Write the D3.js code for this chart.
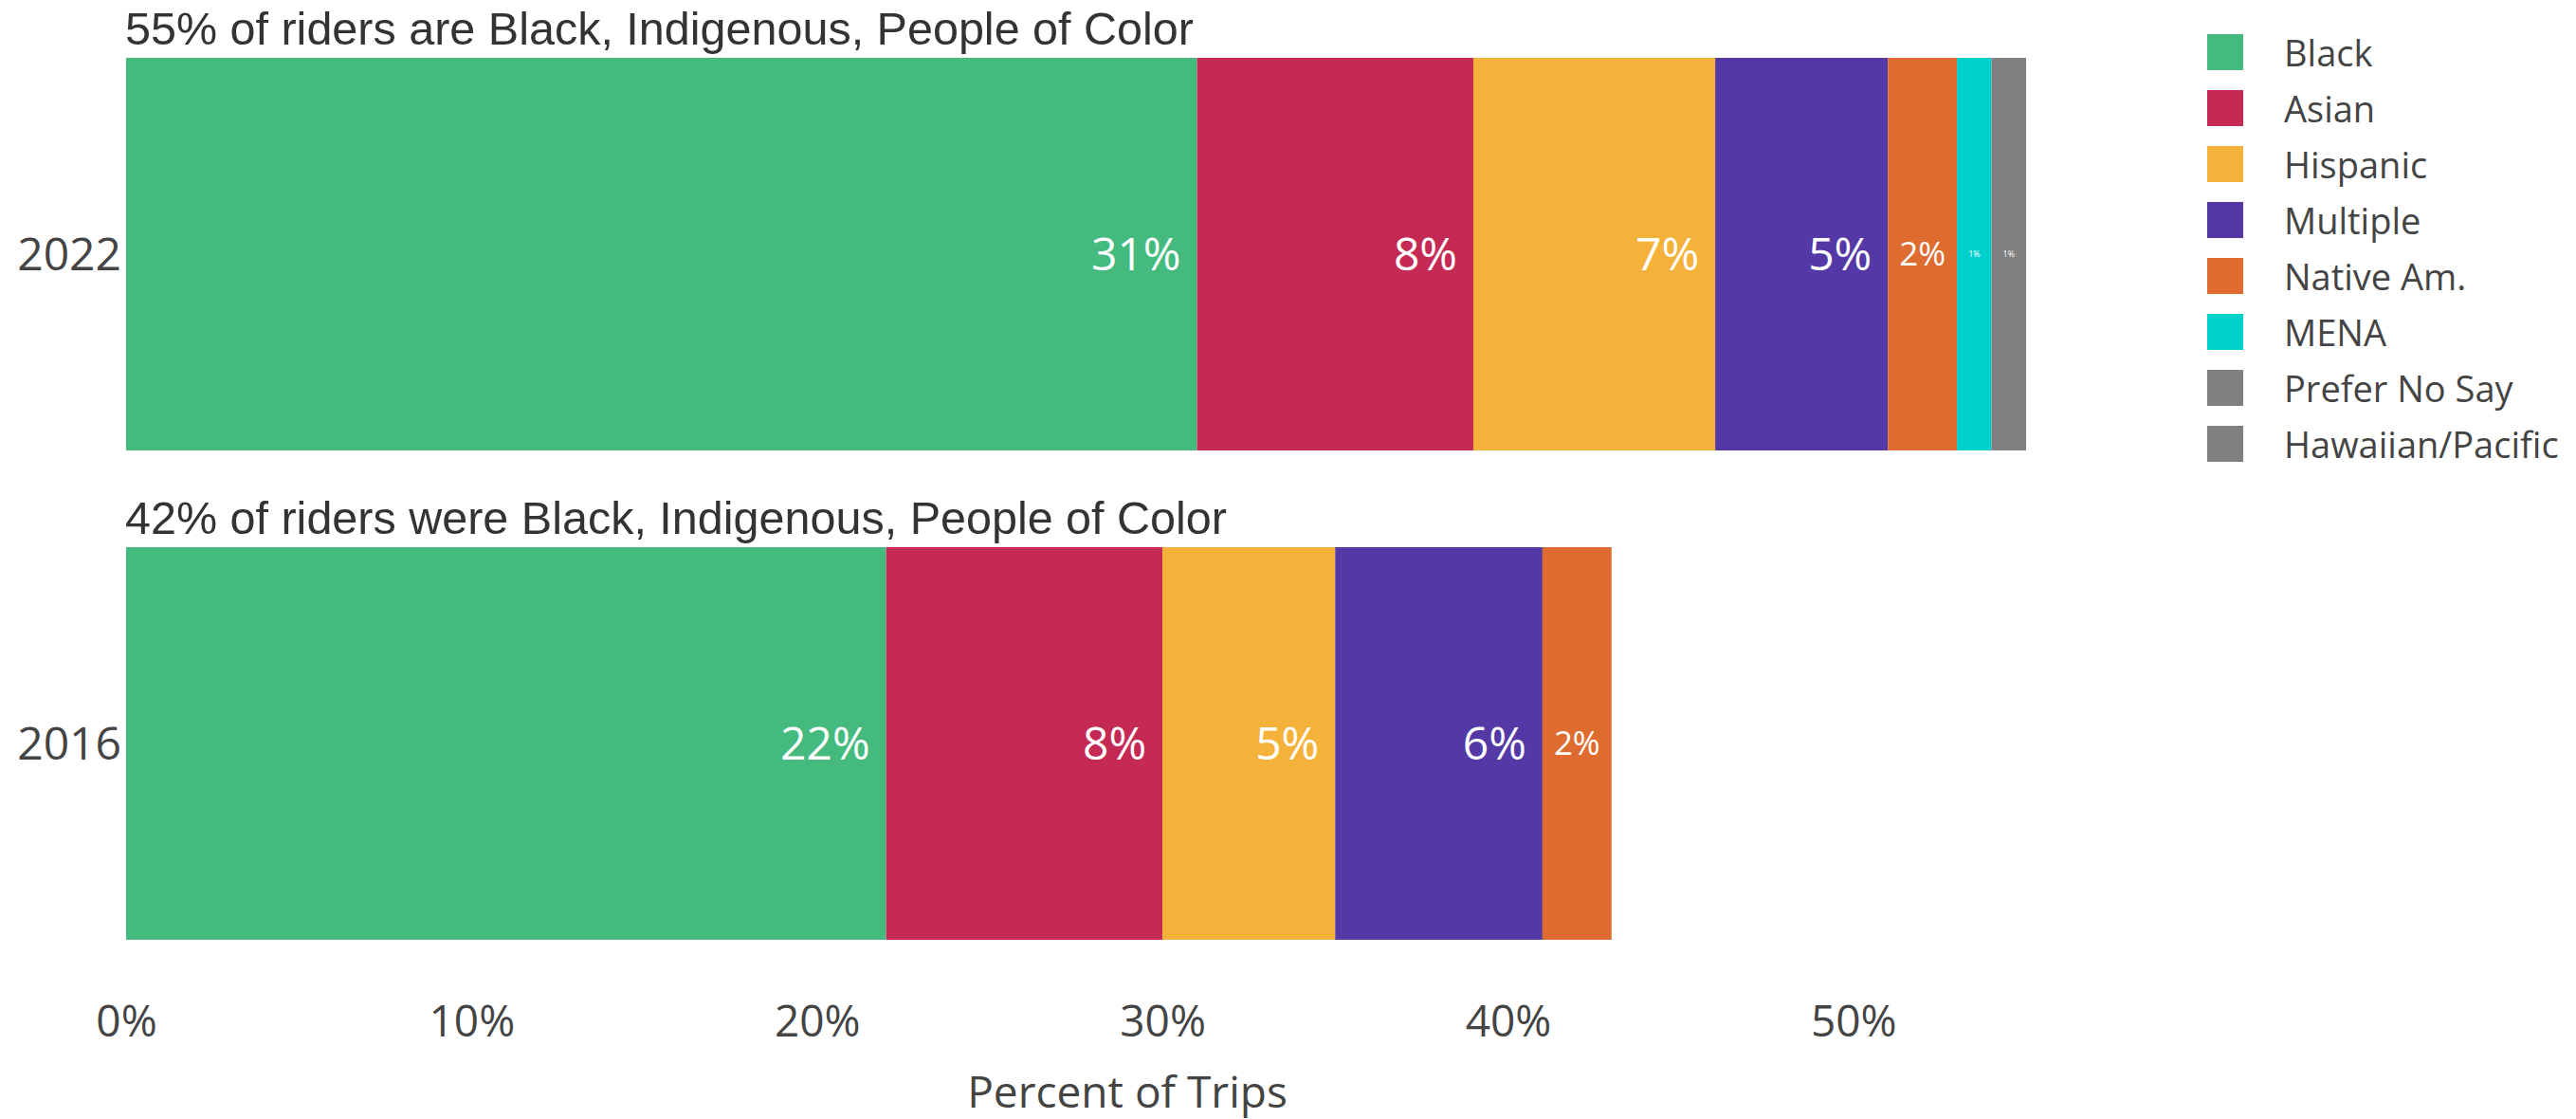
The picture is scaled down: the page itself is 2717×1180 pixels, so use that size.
<!DOCTYPE html>
<html>
<head>
<meta charset="utf-8">
<script src="https://cdn.jsdelivr.net/npm/d3@7"></script>
<style>
  html, body { margin: 0; padding: 0; background: #fff; }
  svg { display: block; }
</style>
</head>
<body>
<svg id="chart" width="2717" height="1180"></svg>
<script>
// ---- data ----
const years = ["2022", "2016"];
const groups = ["Black", "Asian", "Hispanic", "Multiple", "Native Am.", "MENA", "Prefer No Say", "Hawaiian/Pacific"];
const colors = ["#45ba7f", "#c52a55", "#f5b23b", "#5438a5", "#de6c30", "#00d0cb", "#808080", "#808080"];
const values2022 = [31, 8, 7, 5, 2, 1, 1, 0];
const values2016 = [22, 8, 5, 6, 2, 0, 0, 0];
const titles = ["55% of riders are Black, Indigenous, People of Color",
                "42% of riders were Black, Indigenous, People of Color"];
const xTicks = [0, 10, 20, 30, 40, 50];
const xAxisTitle = "Percent of Trips";

const valuesByYear = { "2022": values2022, "2016": values2016 };

const svg = d3.select("#chart");
const x = d3.scaleLinear().domain([0, 55]).range([133, 2137]);
const y = d3.scaleBand().domain(years).range([61, 991]).paddingInner(0.1977).paddingOuter(0);

const labelFont = "'Open Sans', sans-serif";
const baseFs = 48;

// measuring helper
const measurer = svg.append("text").attr("font-family", labelFont).attr("font-size", 100).attr("visibility", "hidden");
function textWidth(t, fs) { measurer.text(t); return measurer.node().getComputedTextLength() * fs / 100; }

years.forEach((yr, yi) => {
  const vals = valuesByYear[yr];
  let cum = 0;
  const segs = vals.map((v, i) => { const s = { v, i, x0: cum, x1: cum + v }; cum += v; return s; })
                   .filter(s => s.v > 0);
  const g = svg.append("g");
  const by = y(yr), bh = y.bandwidth(), cy = by + bh / 2;

  g.selectAll("rect").data(segs).join("rect")
    .attr("x", d => x(d.x0))
    .attr("y", by)
    .attr("width", d => x(d.x1) - x(d.x0))
    .attr("height", bh)
    .attr("fill", d => colors[d.i]);

  segs.forEach(d => {
    const label = Math.round(d.v) + "%";
    const w = x(d.x1) - x(d.x0);
    const full = textWidth(label, baseFs);
    if (full + 30 <= w) {
      g.append("text")
        .attr("x", x(d.x1) - 17)
        .attr("y", cy + 0.357 * baseFs)
        .attr("text-anchor", "end")
        .attr("font-family", labelFont)
        .attr("font-size", baseFs)
        .attr("fill", "#fff")
        .text(label);
    } else {
      const fs = Math.max(4, baseFs * (w - 24) / full);
      g.append("text")
        .attr("x", (x(d.x0) + x(d.x1)) / 2)
        .attr("y", cy + 0.357 * fs)
        .attr("text-anchor", "middle")
        .attr("font-family", labelFont)
        .attr("font-size", fs)
        .attr("fill", "#fff")
        .text(label);
    }
  });

  // title above bar
  svg.append("text")
    .attr("x", 132)
    .attr("y", by - 14)
    .attr("font-family", "'Liberation Sans', Arial, sans-serif")
    .attr("font-size", 48.5)
    .attr("fill", "#333")
    .text(titles[yi]);

  // year label
  svg.append("text")
    .attr("x", 128)
    .attr("y", cy + 0.357 * 48)
    .attr("text-anchor", "end")
    .attr("font-family", labelFont)
    .attr("font-size", 48)
    .attr("fill", "#444")
    .text(yr);
});

// x axis (no line, no ticks)
const xAxis = d3.axisBottom(x).tickValues(xTicks).tickFormat(d => d + "%").tickSize(0).tickPadding(0);
const ax = svg.append("g").attr("transform", "translate(0,1060)").call(xAxis);
ax.select(".domain").remove();
ax.selectAll("text")
  .attr("font-family", labelFont)
  .attr("font-size", 46)
  .attr("fill", "#444")
  .attr("dy", null)
  .attr("y", 33);

svg.append("text")
  .attr("x", 1189)
  .attr("y", 1168)
  .attr("text-anchor", "middle")
  .attr("font-family", labelFont)
  .attr("font-size", 46)
  .attr("fill", "#444")
  .text(xAxisTitle);

// legend
const leg = svg.append("g");
groups.forEach((gname, i) => {
  const top = 36 + i * 59;
  leg.append("rect").attr("x", 2328).attr("y", top).attr("width", 38).attr("height", 38).attr("fill", colors[i]);
  leg.append("text")
    .attr("x", 2409)
    .attr("y", top + 34)
    .attr("font-family", labelFont)
    .attr("font-size", 38)
    .attr("fill", "#444")
    .text(gname);
});
measurer.remove();
</script>
</body>
</html>
